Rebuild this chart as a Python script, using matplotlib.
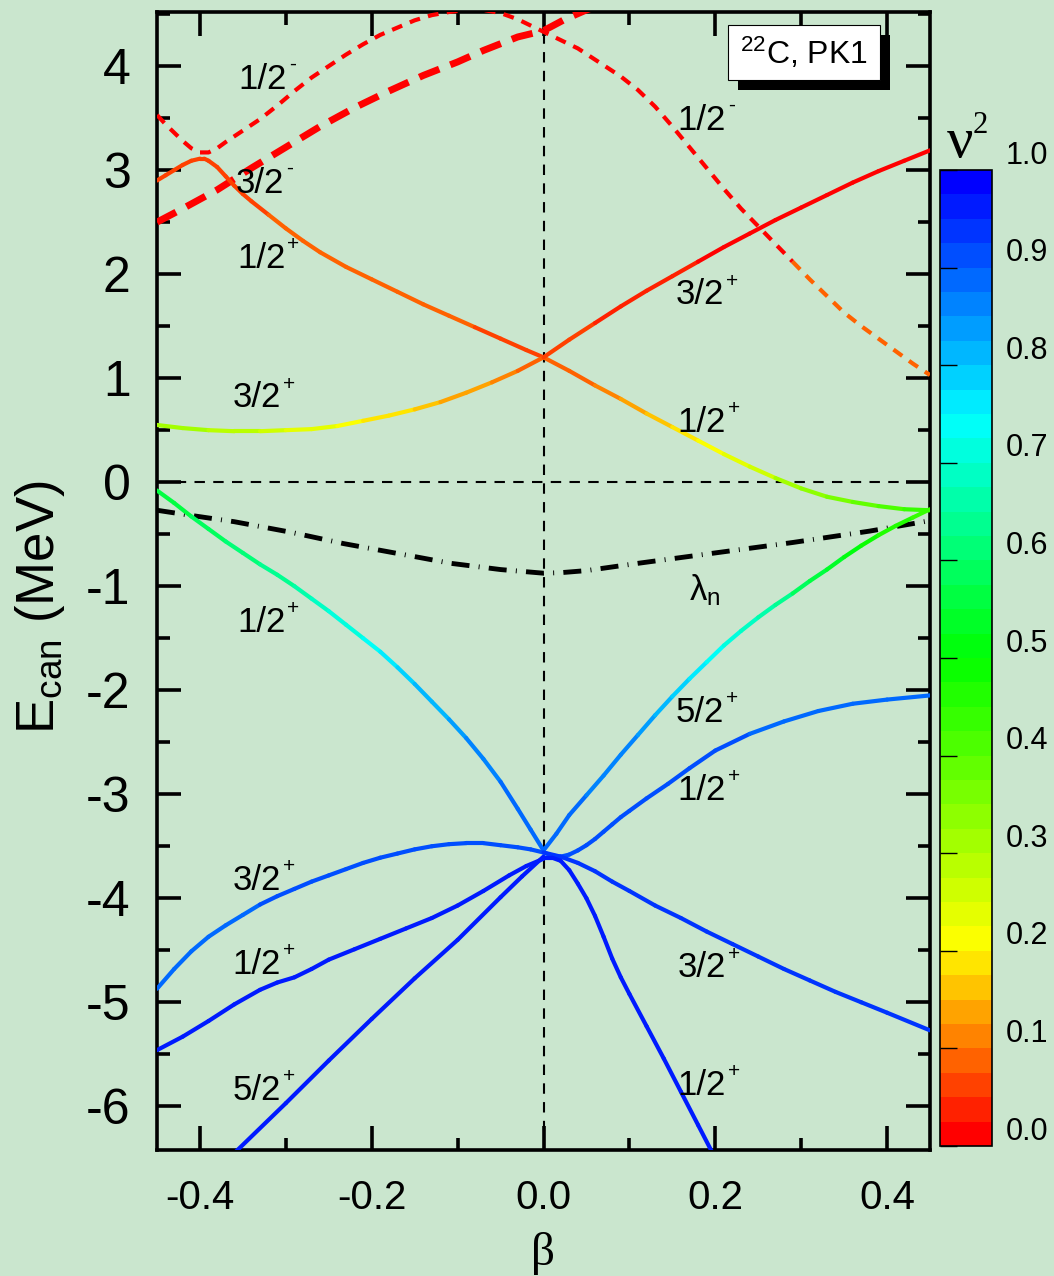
import numpy as np
import matplotlib
matplotlib.use('Agg')
import matplotlib.pyplot as plt
from matplotlib.collections import LineCollection
from matplotlib.colors import LinearSegmentedColormap, Normalize
from matplotlib.cm import ScalarMappable
from matplotlib.patches import Rectangle
from matplotlib.transforms import ScaledTranslation

plt.rcParams['font.family'] = ['Liberation Sans', 'DejaVu Sans']
plt.rcParams['mathtext.fontset'] = 'custom'
plt.rcParams['mathtext.rm'] = 'Liberation Sans'
plt.rcParams['mathtext.it'] = 'Liberation Sans:italic'
plt.rcParams['mathtext.bf'] = 'Liberation Sans:bold'
plt.rcParams['axes.unicode_minus'] = False

BG = '#cae6ce'

# canonical single-neutron levels of 22C vs deformation beta, with occupation v^2
# positive parity, upper pair (d3/2 branch)
b_a = [-0.45, -0.44, -0.43, -0.42, -0.41, -0.40, -0.395, -0.39, -0.38, -0.37, -0.36, -0.35, -0.34,
       -0.32, -0.30, -0.28, -0.26, -0.23, -0.2, -0.17, -0.14, -0.11, -0.08, -0.05, -0.02,
       0.0, 0.03, 0.06, 0.09, 0.12, 0.15, 0.18, 0.21, 0.24, 0.27, 0.3, 0.33, 0.36, 0.39, 0.42, 0.45]
e_a = [2.9, 2.95, 3.0, 3.05, 3.09, 3.11, 3.11, 3.09, 3.03, 2.94, 2.85, 2.77, 2.7,
       2.57, 2.44, 2.32, 2.21, 2.07, 1.95, 1.83, 1.71, 1.6, 1.49, 1.38, 1.27,
       1.2, 1.07, 0.93, 0.8, 0.66, 0.53, 0.4, 0.27, 0.15, 0.04, -0.06, -0.14, -0.19, -0.23, -0.26, -0.27]
v_a = [0.07, 0.07, 0.065, 0.065, 0.06, 0.06, 0.06, 0.06, 0.06, 0.065, 0.065, 0.07, 0.07,
       0.075, 0.075, 0.08, 0.08, 0.08, 0.08, 0.08, 0.08, 0.075, 0.075, 0.07, 0.07,
       0.07, 0.08, 0.1, 0.12, 0.14, 0.16, 0.19, 0.22, 0.25, 0.29, 0.32, 0.35, 0.38, 0.4, 0.42, 0.43]

b_b = [-0.45, -0.42, -0.39, -0.36, -0.33, -0.3, -0.27, -0.24, -0.21, -0.18, -0.15, -0.12, -0.09, -0.06,
       -0.03, 0.0, 0.03, 0.06, 0.09, 0.12, 0.15, 0.18, 0.21, 0.24, 0.27, 0.3, 0.33, 0.36, 0.39, 0.42, 0.45]
e_b = [0.55, 0.52, 0.5, 0.49, 0.49, 0.5, 0.51, 0.54, 0.59, 0.64, 0.7, 0.77, 0.86, 0.96,
       1.07, 1.2, 1.37, 1.53, 1.69, 1.84, 1.98, 2.12, 2.26, 2.39, 2.52, 2.64, 2.76, 2.88, 2.99, 3.09, 3.19]
v_b = [0.32, 0.31, 0.3, 0.28, 0.27, 0.25, 0.23, 0.22, 0.2, 0.19, 0.17, 0.15, 0.14, 0.12,
       0.1, 0.08, 0.06, 0.05, 0.04, 0.035, 0.03, 0.025, 0.02, 0.02, 0.02, 0.015, 0.015, 0.01, 0.01, 0.01, 0.01]

# negative parity (p-wave), dashed
b_c = [-0.45, -0.44, -0.43, -0.42, -0.41, -0.40, -0.39, -0.38, -0.37, -0.35, -0.33, -0.31, -0.29, -0.27,
       -0.25, -0.23, -0.21, -0.19, -0.17, -0.15, -0.13, -0.11, -0.09, -0.07, -0.05, -0.03, -0.015,
       0.0, 0.02, 0.04, 0.066, 0.09, 0.11, 0.13, 0.15, 0.17, 0.19, 0.21, 0.23, 0.25, 0.27,
       0.29, 0.31, 0.33, 0.35, 0.37, 0.39, 0.41, 0.43, 0.45]
e_c = [3.53, 3.44, 3.36, 3.28, 3.21, 3.17, 3.17, 3.21, 3.27, 3.38, 3.49, 3.62, 3.76, 3.89,
       4.0, 4.11, 4.21, 4.3, 4.37, 4.44, 4.49, 4.52, 4.54, 4.54, 4.51, 4.45, 4.39,
       4.33, 4.25, 4.17, 4.03, 3.9, 3.77, 3.61, 3.42, 3.22, 3.02, 2.82, 2.63, 2.46, 2.29,
       2.12, 1.95, 1.79, 1.63, 1.5, 1.38, 1.26, 1.14, 1.03]
v_c = 0.02
v_c_tail = 0.08
c_split = 41  # index where the p1/2 tail turns orange

b_d = [-0.45, -0.42, -0.38, -0.34, -0.3, -0.26, -0.22, -0.18, -0.14, -0.1, -0.07, -0.03,
       0.0, 0.025, 0.05, 0.07]
e_d = [2.5, 2.63, 2.81, 3.02, 3.22, 3.42, 3.6, 3.76, 3.91, 4.04, 4.15, 4.28,
       4.34, 4.45, 4.54, 4.6]
v_d = 0.01

# neutron Fermi energy
b_lam = [-0.45, -0.41, -0.36, -0.295, -0.233, -0.147, -0.108, -0.05, 0.0, 0.02, 0.05, 0.11, 0.2, 0.29,
         0.38, 0.45]
e_lam = [-0.27, -0.32, -0.38, -0.48, -0.59, -0.72, -0.78, -0.84, -0.875, -0.87, -0.85, -0.78, -0.68, -0.58,
         -0.47, -0.37]

# positive parity, d5/2 + s1/2 bunch below the Fermi level
b_l1 = [-0.45, -0.43, -0.41, -0.39, -0.37, -0.35, -0.33, -0.31, -0.29, -0.27, -0.25, -0.23, -0.21,
        -0.19, -0.17, -0.15, -0.13, -0.11, -0.09, -0.07, -0.05, -0.03, -0.015, 0.0]
e_l1 = [-0.08, -0.2, -0.33, -0.45, -0.57, -0.68, -0.79, -0.89, -1.0, -1.12, -1.24, -1.37, -1.5,
        -1.63, -1.78, -1.94, -2.11, -2.28, -2.46, -2.66, -2.88, -3.14, -3.34, -3.54]
v_l1 = [0.55, 0.56, 0.57, 0.58, 0.6, 0.61, 0.62, 0.64, 0.65, 0.67, 0.69, 0.71, 0.73,
        0.75, 0.77, 0.79, 0.81, 0.83, 0.85, 0.86, 0.87, 0.88, 0.89, 0.9]

b_r1 = [0.0, 0.015, 0.03, 0.05, 0.07, 0.09, 0.11, 0.13, 0.15, 0.17, 0.19, 0.21, 0.23, 0.25,
        0.27, 0.29, 0.31, 0.33, 0.35, 0.37, 0.39, 0.41, 0.43, 0.45]
e_r1 = [-3.54, -3.38, -3.2, -3.01, -2.82, -2.62, -2.43, -2.24, -2.06, -1.89, -1.73, -1.57, -1.43, -1.3,
        -1.18, -1.07, -0.95, -0.84, -0.72, -0.61, -0.51, -0.42, -0.34, -0.26]
v_r1 = [0.9, 0.89, 0.88, 0.87, 0.87, 0.86, 0.85, 0.83, 0.81, 0.78, 0.75, 0.72, 0.7, 0.67,
        0.64, 0.61, 0.58, 0.55, 0.53, 0.5, 0.48, 0.46, 0.44, 0.43]

b_l2 = [-0.45, -0.43, -0.41, -0.39, -0.37, -0.35, -0.33, -0.31, -0.29, -0.27, -0.25, -0.23, -0.21,
        -0.19, -0.17, -0.15, -0.13, -0.11, -0.09, -0.07, -0.05, -0.03, -0.015, 0.0]
e_l2 = [-4.87, -4.68, -4.51, -4.37, -4.26, -4.16, -4.06, -3.98, -3.91, -3.84, -3.78, -3.72, -3.66,
        -3.61, -3.57, -3.53, -3.5, -3.48, -3.47, -3.47, -3.49, -3.51, -3.53, -3.56]
v_l2 = [0.88, 0.88, 0.89, 0.89, 0.89, 0.89, 0.9, 0.9, 0.9, 0.9, 0.9, 0.9, 0.9,
        0.9, 0.9, 0.9, 0.91, 0.91, 0.91, 0.91, 0.91, 0.91, 0.91, 0.91]

b_l3 = [-0.45, -0.42, -0.39, -0.36, -0.33, -0.31, -0.29, -0.27, -0.25, -0.22, -0.19, -0.16, -0.13,
        -0.1, -0.07, -0.04, -0.02, 0.0]
e_l3 = [-5.46, -5.33, -5.18, -5.02, -4.88, -4.81, -4.76, -4.68, -4.59, -4.49, -4.39, -4.29, -4.19,
        -4.07, -3.93, -3.78, -3.69, -3.62]
v_l3 = [0.95] * len(b_l3)

b_l4 = [-0.36, -0.3, -0.25, -0.2, -0.15, -0.1, -0.05, -0.025, 0.0]
e_l4 = [-6.45, -5.97, -5.56, -5.16, -4.77, -4.4, -3.99, -3.79, -3.6]
v_l4 = [0.97] * len(b_l4)

b_r2 = [0.0, 0.01, 0.02, 0.03, 0.04, 0.05, 0.06, 0.07, 0.08, 0.09, 0.1, 0.12, 0.145, 0.17, 0.2,
        0.24, 0.28, 0.32, 0.36, 0.4, 0.45]
e_r2 = [-3.56, -3.59, -3.6, -3.58, -3.54, -3.49, -3.43, -3.36, -3.29, -3.22, -3.16, -3.04, -2.9, -2.75, -2.58,
        -2.42, -2.3, -2.2, -2.13, -2.09, -2.05]
v_r2 = [0.92, 0.92, 0.92, 0.92, 0.92, 0.92, 0.92, 0.91, 0.91, 0.91, 0.91, 0.91, 0.9, 0.9, 0.9,
        0.9, 0.89, 0.89, 0.89, 0.89, 0.89]

b_r3 = [0.0, 0.02, 0.04, 0.06, 0.08, 0.1, 0.13, 0.16, 0.19, 0.22, 0.25, 0.28, 0.31, 0.34, 0.37, 0.4, 0.45]
e_r3 = [-3.56, -3.6, -3.66, -3.74, -3.84, -3.93, -4.07, -4.19, -4.32, -4.44, -4.56, -4.68, -4.79, -4.9,
        -5.0, -5.1, -5.27]
v_r3 = [0.93] * len(b_r3)

b_r4 = [0.0, 0.01, 0.02, 0.03, 0.04, 0.05, 0.06, 0.07, 0.08, 0.09, 0.1, 0.12, 0.14, 0.16, 0.18, 0.2]
e_r4 = [-3.61, -3.61, -3.64, -3.73, -3.86, -4.0, -4.17, -4.37, -4.58, -4.76, -4.92, -5.23, -5.54, -5.86, -6.18, -6.5]
v_r4 = [0.97] * len(b_r4)

# (beta, E, text, parity) of the level labels
labels = [
    (-0.355, 3.87, '1/2', '-'), (-0.358, 2.87, '3/2', '-'), (-0.357, 2.15, '1/2', '+'),
    (-0.362, 0.81, '3/2', '+'), (0.156, 3.48, '1/2', '-'), (0.154, 1.8, '3/2', '+'),
    (0.156, 0.57, '1/2', '+'), (-0.357, -1.35, '1/2', '+'), (0.154, -2.21, '5/2', '+'),
    (0.156, -2.96, '1/2', '+'), (-0.362, -3.83, '3/2', '+'), (-0.362, -4.64, '1/2', '+'),
    (-0.362, -5.85, '5/2', '+'), (0.156, -4.67, '3/2', '+'), (0.156, -5.8, '1/2', '+'),
]

cbar_ticks = [0.0, 0.1, 0.2, 0.3, 0.4, 0.5, 0.6, 0.7, 0.8, 0.9, 1.0]

cmap = LinearSegmentedColormap.from_list(
    'occ', [(0.0, (1, 0, 0)), (0.2, (1, 1, 0)), (0.5, (0, 1, 0)), (0.75, (0, 1, 1)), (1.0, (0, 0, 1))], N=40)
norm = Normalize(0, 1)


def level(ax, beta, e, v2, lw=3.0):
    pts = np.column_stack([beta, e])
    segs = np.stack([pts[:-1], pts[1:]], axis=1)
    v2 = np.asarray(v2)
    lc = LineCollection(segs, cmap=cmap, norm=norm, linewidths=lw, capstyle='round', joinstyle='round', zorder=3)
    lc.set_array(0.5 * (v2[:-1] + v2[1:]))
    ax.add_collection(lc)


fig = plt.figure(figsize=(10.54, 12.76), dpi=100, facecolor=BG)
ax = fig.add_axes([157 / 1054, 1 - 1150 / 1276, 773 / 1054, 1138 / 1276])
ax.set_facecolor(BG)
ax.set_xlim(-0.45, 0.45)
ax.set_ylim(-6.42, 4.52)

# reference lines
ax.axvline(0, color='black', lw=1.5, ls=(0, (5, 4)), zorder=2)
ax.axhline(0, color='black', lw=1.5, ls=(0, (5, 4)), zorder=2)

# dashed negative-parity levels
ax.plot(b_c[:c_split + 1], e_c[:c_split + 1], color=cmap(norm(v_c)), lw=3.0, ls=(0, (2.6, 2.0)), zorder=3)
ax.plot(b_c[c_split:], e_c[c_split:], color=cmap(norm(v_c_tail)), lw=3.0, ls=(0, (2.6, 2.0)), zorder=3)
ax.plot(b_d, e_d, color=cmap(norm(v_d)), lw=5.0, ls=(0, (3.1, 1.7)), zorder=3)

# Fermi energy
ax.plot(b_lam, e_lam, color='black', lw=3.5, ls=(0, (3.7, 1.9, 0.2, 1.9)), zorder=3)

for b, e, v in [(b_a, e_a, v_a), (b_b, e_b, v_b), (b_l1, e_l1, v_l1), (b_r1, e_r1, v_r1),
                (b_l2, e_l2, v_l2), (b_l3, e_l3, v_l3), (b_l4, e_l4, v_l4), (b_r2, e_r2, v_r2),
                (b_r3, e_r3, v_r3), (b_r4, e_r4, v_r4)]:
    level(ax, b, e, v)

for x, y, t, p in labels:
    txt = ax.text(x, y, t, fontsize=25, ha='left', va='center', zorder=4)
    ax.annotate(p, xy=(1, 0.5), xycoords=txt, xytext=(1.5, 10 if p == '+' else 11),
                textcoords='offset points', fontsize=15, ha='left', va='center', zorder=4)
ax.text(0.169, -1.04, 'λ$_{\\rm n}$', fontsize=25, ha='left', va='center', zorder=4)

# axes styling
for sp in ax.spines.values():
    sp.set_linewidth(2.6)
ax.set_xticks([-0.4, -0.2, 0.0, 0.2, 0.4])
ax.set_xticks([-0.3, -0.1, 0.1, 0.3], minor=True)
ax.set_xticklabels(['-0.4', '-0.2', '0.0', '0.2', '0.4'])
ax.set_yticks(range(-6, 5))
ax.set_yticks(np.arange(-6.0, 4.6, 0.5), minor=True)
ax.tick_params(which='both', direction='in', top=True, right=True, width=2.6)
ax.tick_params(which='major', length=17)
ax.tick_params(which='minor', length=9)
ax.tick_params(axis='x', which='major', labelsize=29, pad=21)
ax.tick_params(axis='y', which='major', labelsize=36, pad=19)

fig.text(0.5152, 0.018, 'β', fontsize=34, family='Liberation Serif', ha='center', va='center')
fig.text(0.038, 0.524, 'E$_{\\rm can}$ (MeV)', fontsize=38, rotation=90, ha='center', va='center')

# label box with drop shadow
fig.add_artist(Rectangle((738 / 1054, 1 - 90 / 1276), 152 / 1054, 55 / 1276, transform=fig.transFigure,
                         facecolor='black', edgecolor='none', zorder=5))
fig.add_artist(Rectangle((728 / 1054, 1 - 80 / 1276), 152 / 1054, 55 / 1276, transform=fig.transFigure,
                         facecolor='white', edgecolor='black', lw=0.8, zorder=6))
fig.text(804 / 1054, 1 - 53 / 1276, '$^{22}$C, PK1', fontsize=23, ha='center', va='center', zorder=7)

# colorbar
cax = fig.add_axes([940 / 1054, 1 - 1146 / 1276, 52 / 1054, 976 / 1276])
cb = fig.colorbar(ScalarMappable(norm=norm, cmap=cmap), cax=cax, ticks=cbar_ticks)
cb.outline.set_linewidth(1.2)
cax.set_yticklabels(['%.1f' % t for t in cbar_ticks])
cax.tick_params(left=True, right=False, labelleft=False, labelright=True, direction='in',
                length=12, width=1, labelsize=22, pad=10)
shift = ScaledTranslation(0, 0.18, fig.dpi_scale_trans)
for lab in cax.get_yticklabels():
    lab.set_transform(lab.get_transform() + shift)
fig.text(960 / 1054, 1 - 157 / 1276, 'ν', family='Liberation Serif', fontsize=42, ha='center', va='baseline')
fig.text(980 / 1054, 1 - 133 / 1276, '2', family='Liberation Serif', fontsize=22, ha='center', va='baseline')

fig.savefig('out.png', dpi=100, facecolor=BG)
